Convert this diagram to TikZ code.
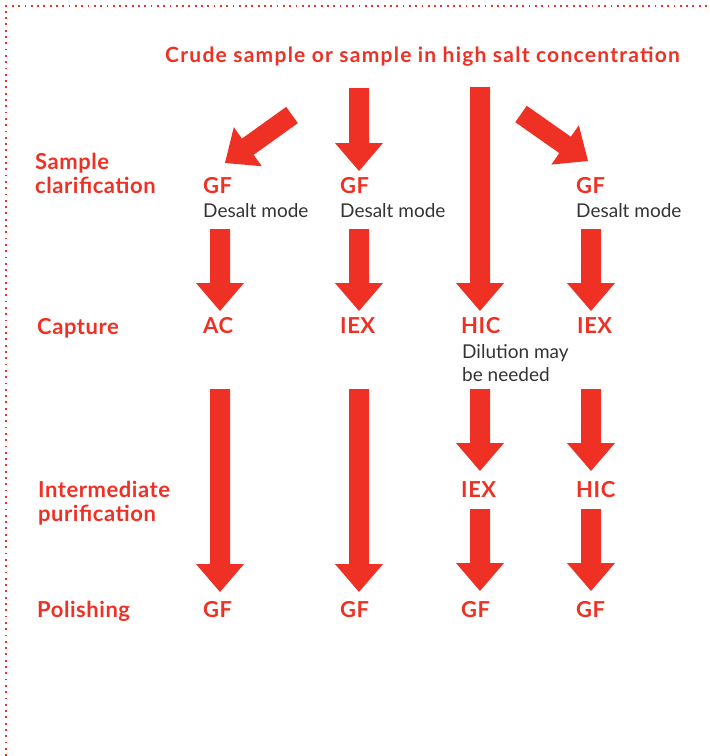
\documentclass[tikz,border=0pt]{standalone}
\usepackage{fontspec}
\setmainfont{Lato}
\usetikzlibrary{calc}
\definecolor{gered}{RGB}{238,49,36}
\definecolor{gegray}{RGB}{51,51,51}
\newcommand\bigarrow[2]{%
  \path ($(#2)!28pt!(#1)$) coordinate (hb);
  \fill[arrowfill] ($(#1)!10pt!90:(#2)$) -- ($(hb)!10pt!90:(#2)$) -- ($(hb)!24pt!90:(#2)$) -- (#2)
     -- ($(hb)!24pt!-90:(#2)$) -- ($(hb)!10pt!-90:(#2)$) -- ($(#1)!10pt!-90:(#2)$) -- cycle;}
\tikzset{
  arrowfill/.style={fill=gered},
  lbl/.style={anchor=base west, inner sep=0pt, text=gered, font=\fontsize{22}{26}\selectfont\bfseries\addfontfeatures{LetterSpace=2.5}},
  sub/.style={anchor=base west, inner sep=0pt, text=gegray, font=\fontsize{19}{23}\selectfont},
  ttl/.style={anchor=base west, inner sep=0pt, text=gered, font=\fontsize{21}{25}\selectfont\bfseries\addfontfeatures{LetterSpace=6}},
  border/.style={draw=gered, line width=1.8pt, dash pattern=on 1.8pt off 4.5pt}
}
\begin{document}
\begin{tikzpicture}[x=1pt,y=-1pt]
\useasboundingbox (0,0) rectangle (710,756);
% border
\coordinate (bl) at (6,756);
\coordinate (tl) at (6,6);
\coordinate (tr) at (710,6);
\draw[border] (bl) -- (tl) -- (tr);
% title
\node[ttl] (title) at (165,62) {Crude sample or sample in high salt concentration};
% row labels
\node[lbl] (sample) at (35,169.5) {Sample};
\node[lbl] (clar) at (35,193) {clarification};
\node[lbl] (capture) at (37,334) {Capture};
\node[lbl] (inter) at (38,497) {Intermediate};
\node[lbl] (purif) at (38,521) {purification};
\node[lbl] (polish) at (37,617) {Polishing};
% row 1
\node[lbl] (gf1) at (203,193) {GF};
\node[sub] (ds1) at (203,217) {Desalt mode};
\node[lbl] (gf2) at (340,193) {GF};
\node[sub] (ds2) at (340,217) {Desalt mode};
\node[lbl] (gf4) at (576,193) {GF};
\node[sub] (ds4) at (576,217) {Desalt mode};
% row 2
\node[lbl] (ac) at (203,333) {AC};
\node[lbl] (iex2) at (340,333) {IEX};
\node[lbl] (hic3) at (461,333) {HIC};
\node[sub] (dil1) at (462,358) {Dilution may};
\node[sub] (dil2) at (462,381) {be needed};
\node[lbl] (iex4) at (577,333) {IEX};
% row 3
\node[lbl] (iex3) at (461,497) {IEX};
\node[lbl] (hic4) at (576,497) {HIC};
% row 4
\node[lbl] (pgf1) at (203,617) {GF};
\node[lbl] (pgf2) at (340,617) {GF};
\node[lbl] (pgf3) at (461,617) {GF};
\node[lbl] (pgf4) at (576,617) {GF};
% arrow end points
\coordinate (a1s) at (292,115);  \coordinate (a1e) at (225,163);
\coordinate (a2s) at (359,88);   \coordinate (a2e) at (359,171);
\coordinate (a3s) at (480,87);   \coordinate (a3e) at (480,311);
\coordinate (a4s) at (521,114);  \coordinate (a4e) at (588,161);
\coordinate (b1s) at (220,229);  \coordinate (b1e) at (220,311);
\coordinate (b2s) at (359,229);  \coordinate (b2e) at (359,311);
\coordinate (b4s) at (591,229);  \coordinate (b4e) at (591,311);
\coordinate (c1s) at (220,389);  \coordinate (c1e) at (220,592);
\coordinate (c2s) at (359,389);  \coordinate (c2e) at (359,592);
\coordinate (c3s) at (480,389);  \coordinate (c3e) at (480,471);
\coordinate (c4s) at (591,389);  \coordinate (c4e) at (591,471);
\coordinate (d3s) at (480,509);  \coordinate (d3e) at (480,591);
\coordinate (d4s) at (591,509);  \coordinate (d4e) at (591,591);
\bigarrow{a1s}{a1e}
\bigarrow{a2s}{a2e}
\bigarrow{a3s}{a3e}
\bigarrow{a4s}{a4e}
\bigarrow{b1s}{b1e}
\bigarrow{b2s}{b2e}
\bigarrow{b4s}{b4e}
\bigarrow{c1s}{c1e}
\bigarrow{c2s}{c2e}
\bigarrow{c3s}{c3e}
\bigarrow{c4s}{c4e}
\bigarrow{d3s}{d3e}
\bigarrow{d4s}{d4e}
\end{tikzpicture}
\end{document}
